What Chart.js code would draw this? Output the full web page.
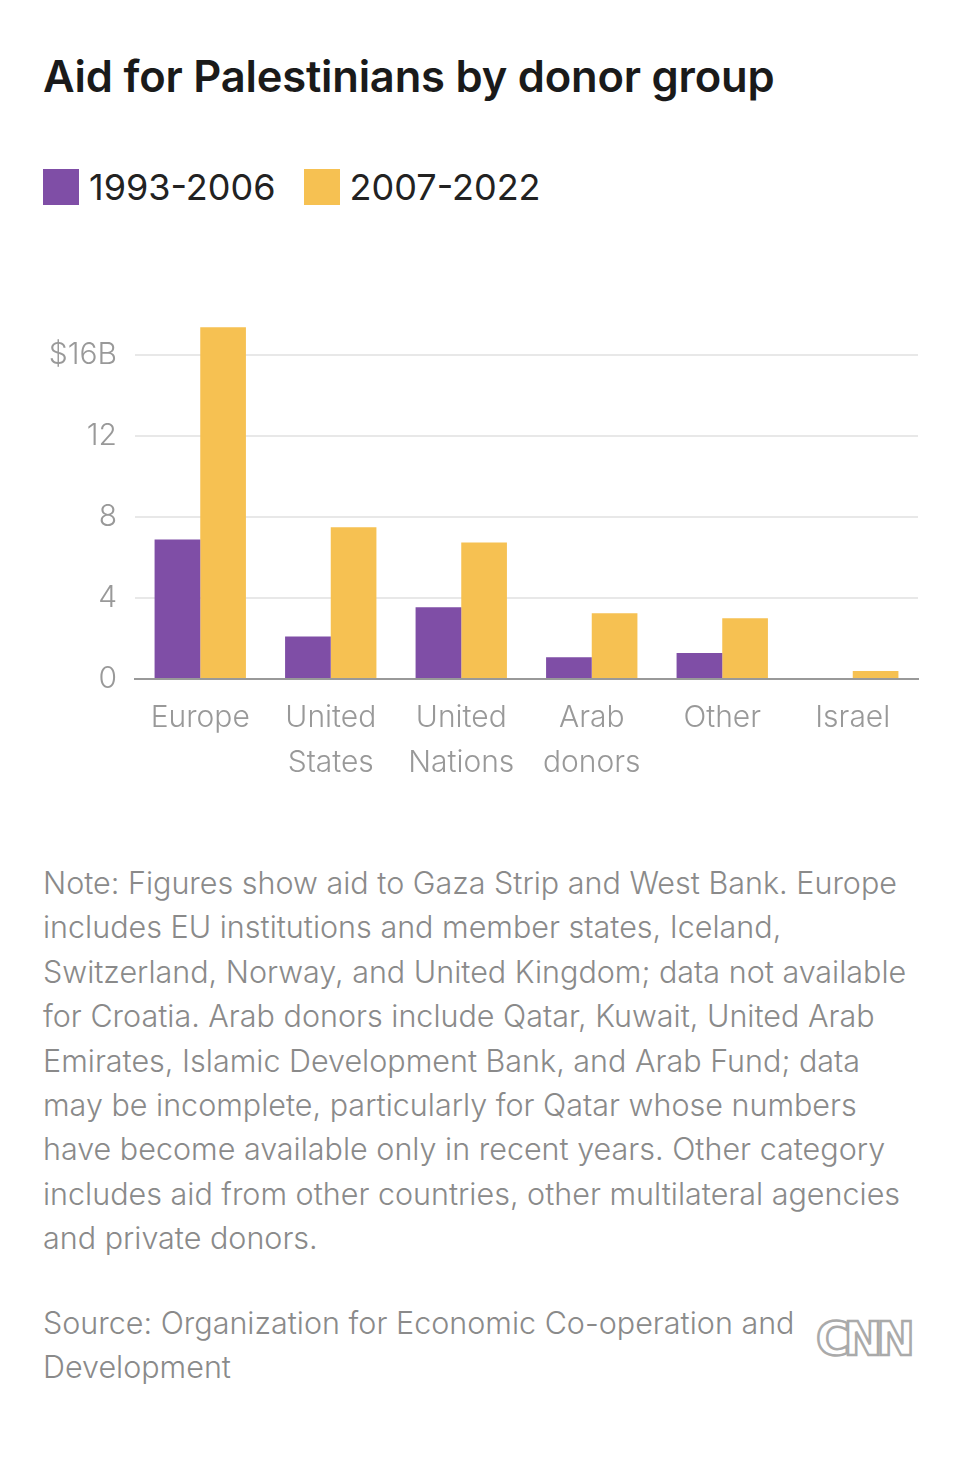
<!DOCTYPE html>
<html><head><meta charset="utf-8">
<script src="https://cdn.jsdelivr.net/npm/chart.js@4"></script>
<style>
body{margin:0;width:960px;height:1457px;background:#fff;font-family:Inter,"Noto Sans",sans-serif;position:relative;overflow:hidden}
#title{position:absolute;left:43px;top:50px;font-size:43.5px;font-weight:600;color:#1a1a1a;letter-spacing:-0.2px}
#legend{position:absolute;left:43px;top:165px;font-size:36px;color:#222;display:flex;align-items:center}
.sw{width:36px;height:36px;display:inline-block;margin-right:10px}
#wrap{position:absolute;left:0;top:279px;width:960px;height:521px}
#note{position:absolute;left:43px;top:861px;width:880px;font-size:30.5px;line-height:44.4px;color:#8a8a8a;font-weight:300}
#src{position:absolute;left:43px;top:1301px;width:780px;font-size:30.5px;line-height:44.4px;color:#8a8a8a;font-weight:300}
#cnn{position:absolute;left:816px;top:1312px;font-size:46px;font-weight:900;color:#fff;-webkit-text-stroke:2.5px #aaa;letter-spacing:-6px;font-family:"DejaVu Sans",sans-serif}
</style></head><body>
<div id="title">Aid for Palestinians by donor group</div>
<div id="legend"><span class="sw" style="background:#7f4ea6"></span>1993-2006<span style="width:28px"></span><span class="sw" style="background:#f6c152"></span>2007-2022</div>
<div id="wrap"><canvas id="c" width="960" height="521"></canvas></div>
<div id="note">Note: Figures show aid to Gaza Strip and West Bank. Europe includes EU institutions and member states, Iceland, Switzerland, Norway, and United Kingdom; data not available for Croatia. Arab donors include Qatar, Kuwait, United Arab Emirates, Islamic Development Bank, and Arab Fund; data may be incomplete, particularly for Qatar whose numbers have become available only in recent years. Other category includes aid from other countries, other multilateral agencies and private donors.</div>
<div id="src">Source: Organization for Economic Co-operation and Development</div>
<div id="cnn">CNN</div>
<script>
const categories=[["Europe"],["United","States"],["United","Nations"],["Arab","donors"],["Other"],["Israel"]];
const early=[6.9,2.1,3.55,1.08,1.28,0];
const late=[17.4,7.5,6.75,3.25,3.0,0.4];
const yTicks=[0,4,8,12,16];
new Chart(document.getElementById('c'),{type:'bar',
data:{labels:categories,datasets:[
{label:'1993-2006',data:early,backgroundColor:'#7f4ea6',categoryPercentage:0.7,barPercentage:1},
{label:'2007-2022',data:late,backgroundColor:'#f6c152',categoryPercentage:0.7,barPercentage:1}]},
options:{responsive:false,animation:false,devicePixelRatio:1,
layout:{padding:{top:14,right:42,left:0,bottom:0}},
plugins:{legend:{display:false},tooltip:{enabled:false}},
scales:{
x:{grid:{display:false},border:{color:'#999',width:2},ticks:{color:'#999',font:{size:30,family:'Inter',weight:300,lineHeight:1.5},padding:8},
 afterFit(s){s.height=121;}},
y:{min:0,max:18,border:{display:false},grid:{color:'#e8e8e8',lineWidth:2,drawTicks:false},
 afterBuildTicks(s){s.ticks=yTicks.map(v=>({value:v}));},
 ticks:{color:'#999',font:{size:30,family:'Inter',weight:300},padding:18,callback:v=>v===16?'$16B':v},
 afterFit(s){s.width=135;}}}}});
</script>
</body></html>
